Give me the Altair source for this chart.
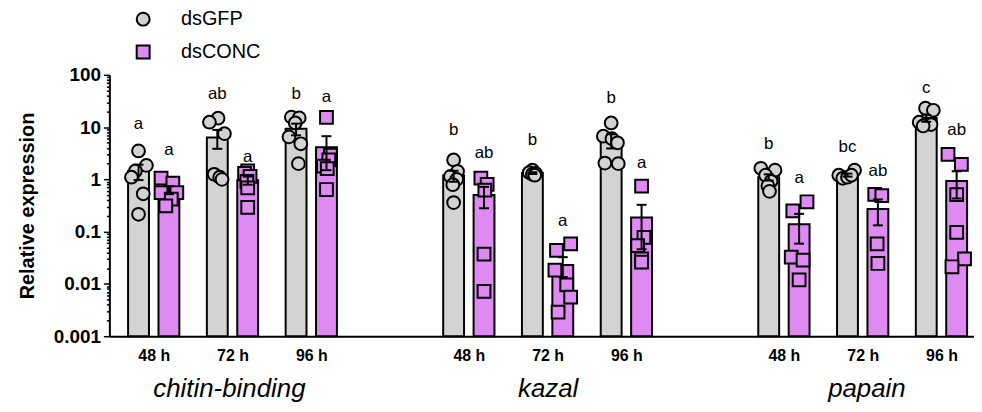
import altair as alt
import pandas as pd

genes = ["chitin-binding", "kazal", "papain"]
times = ["48 h", "72 h", "96 h"]
treatments = ["dsGFP", "dsCONC"]
colors = ["#d3d3d3", "#df8af2"]
shapes = ["circle", "square"]

# bar heights (mean) and SEM, [gene][time]
gfp_mean = [[1.44, 6.34, 9.3], [1.18, 1.32, 5.6], [1.1, 1.21, 14.9]]
gfp_sem = [[0.47, 2.5, 2.34], [0.28, 0.05, 1.7], [0.15, 0.08, 2.26]]
conc_mean = [[0.63, 0.96, 4.1], [0.5, 0.023, 0.186], [0.139, 0.272, 0.93]]
conc_sem = [[0.11, 0.17, 2.6], [0.22, 0.0095, 0.14], [0.08, 0.14, 0.5]]

# individual replicates, [gene][time]
gfp_points = [
    [[3.5, 1.85, 1.45, 1.1, 0.53, 0.215], [14.8, 12.4, 7.5, 1.25, 1.1, 1.0], [15.5, 15, 12, 6.5, 4.8, 2.0]],
    [[2.35, 1.42, 1.14, 1.0, 0.79, 0.36], [1.5, 1.35, 1.3, 1.25, 1.2], [12.0, 6.7, 6.0, 5.0, 2.05, 2.0]],
    [[1.63, 1.5, 1.2, 0.92, 0.75, 0.59], [1.5, 1.2, 1.05, 1.1, 1.2], [23, 21, 12.4, 11.5, 11.2, 10.5]],
]
conc_points = [
    [[1.06, 0.85, 0.56, 0.56, 0.42, 0.31], [1.45, 1.3, 1.14, 0.92, 0.69, 0.29], [15.4, 2.9, 2.35, 1.8, 1.6, 0.64]],
    [[1.06, 0.8, 0.62, 0.037, 0.0072], [0.0585, 0.0438, 0.0184, 0.0096, 0.0056, 0.0029], [0.74, 0.078, 0.054, 0.03, 0.026]],
    [[0.373, 0.249, 0.0327, 0.0284, 0.0119], [0.514, 0.49, 0.0585, 0.0246], [3.0, 1.94, 0.51, 0.097, 0.03, 0.0213]],
]
# horizontal scatter of replicates (in slot units)
gfp_spread = [
    [[0, 0.1, -0.04, -0.09, 0.06, 0], [0.01, -0.1, 0.09, -0.04, 0.03, 0.06], [-0.06, 0.04, -0.01, -0.09, 0.06, 0.03]],
    [[0, 0.05, -0.04, 0.04, -0.01, 0], [0, -0.04, 0.04, 0, 0.03], [0, -0.1, 0.01, 0.08, -0.08, 0.09]],
    [[-0.1, 0.08, -0.04, 0.03, -0.01, 0.01], [0.09, -0.11, -0.06, 0, 0.05], [-0.01, 0.09, -0.09, 0, 0.06, -0.04]],
]
conc_spread = [
    [[-0.1, 0.05, -0.1, 0.1, 0.03, -0.04], [0, -0.04, 0.03, -0.01, 0, 0], [0, 0.05, 0.03, -0.04, 0.01, 0]],
    [[-0.04, 0.04, 0.01, 0, 0], [0.1, -0.08, -0.1, 0.05, 0.1, -0.06], [0, 0.03, -0.05, 0, 0]],
    [[0.1, -0.08, -0.1, 0.05, 0], [-0.04, 0.05, -0.01, 0], [-0.11, 0.06, 0, 0, 0.1, -0.06]],
]
# significance letters and the height they are written at
gfp_letters = [["a", "ab", "b"], ["b", "b", "b"], ["b", "bc", "c"]]
conc_letters = [["a", "a", "a"], ["ab", "a", "a"], ["a", "ab", "ab"]]
gfp_letter_at = [[11.5, 42.4, 42.4], [8.7, 5.6, 36.7], [4.84, 4.19, 56.9]]
conc_letter_at = [[3.63, 2.71, 38.4], [3.13, 0.161, 2.03], [1.06, 1.42, 8.67]]

side = [-0.193, 0.193]
ymin, ymax = 0.001, 100

bar_rows, pt_rows = [], []
for g, gene in enumerate(genes):
    for t, tm in enumerate(times):
        slot = g * 4 + t
        for k, (tr, means, sems, pts, spr, lets, lat) in enumerate([
            ("dsGFP", gfp_mean, gfp_sem, gfp_points, gfp_spread, gfp_letters, gfp_letter_at),
            ("dsCONC", conc_mean, conc_sem, conc_points, conc_spread, conc_letters, conc_letter_at),
        ]):
            m, s = means[g][t], sems[g][t]
            lo = m - s if m - s > 0 else m
            bar_rows.append(dict(gene=gene, time=tm, treatment=tr, pos=slot + side[k],
                                 mean=m, lo=lo, hi=m + s, letter=lets[g][t], letter_at=lat[g][t]))
            for v, j in zip(pts[g][t], spr[g][t]):
                pt_rows.append(dict(gene=gene, time=tm, treatment=tr, pos=slot + side[k] + j, value=v))

bars_df = pd.DataFrame(bar_rows)
pts_df = pd.DataFrame(pt_rows)
caps_df = pd.concat([
    bars_df.assign(cap=bars_df["hi"]),
    bars_df[bars_df["lo"] < bars_df["mean"]].assign(cap=lambda d: d["lo"]),
])

FONT = "Liberation Sans"
x_domain = [-0.5, 10.35]
slot_vals = [g * 4 + t for g in range(len(genes)) for t in range(len(times))]
slot_names = [""] * (max(slot_vals) + 1)
for g in range(len(genes)):
    for t, tm in enumerate(times):
        slot_names[g * 4 + t] = tm
time_expr = "[" + ",".join("'" + s + "'" for s in slot_names) + "][datum.value]"
gene_expr = "[" + ",".join("'" + s + "'" for s in genes) + "][(datum.value-1)/4]"

decades = [0.001, 0.01, 0.1, 1, 10, 100]
ytick_vals = []
for d in decades[:-1]:
    ytick_vals += [d * k for k in range(1, 10)]
ytick_vals.append(100)
dec_test = "indexof([0.001,0.01,0.1,1,10,100], datum.value) >= 0"

x_enc = alt.X("pos:Q", scale=alt.Scale(domain=x_domain, nice=False, zero=False),
              axis=alt.Axis(values=slot_vals, labelExpr=time_expr, title=None, grid=False,
                            ticks=False, tickSize=0, domainColor="black", domainWidth=2,
                            labelFont=FONT, labelFontSize=16, labelFontWeight="bold",
                            labelColor="black", labelPadding=11))
y_scale = alt.Scale(type="log", domain=[ymin, ymax], nice=False)
y_axis = alt.Axis(values=ytick_vals, labelExpr=dec_test + " ? format(datum.value, '~g') : ''",
                  title="Relative expression", titleFont=FONT, titleFontSize=20,
                  titleFontWeight="bold", titleColor="black", titlePadding=16,
                  labelFont=FONT, labelFontSize=19, labelFontWeight="bold", labelColor="black",
                  labelPadding=3, grid=False, domainColor="black", domainWidth=2,
                  tickColor="black", tickWidth=1.5,
                  tickSize={"condition": {"test": dec_test, "value": 6}, "value": 3})

fill_scale = alt.Scale(domain=treatments, range=colors)
shape_scale = alt.Scale(domain=treatments, range=shapes)
legend = alt.Legend(orient="none", legendX=24, legendY=-66, title=None, labelFont=FONT,
                    labelFontSize=20, labelColor="black", symbolSize=169, symbolStrokeWidth=2,
                    symbolStrokeColor="black", labelOffset=28, rowPadding=11, padding=0,
                    labelLimit=200)

bars = alt.Chart(bars_df).mark_bar(size=21, stroke="black", strokeWidth=2).encode(
    x=x_enc,
    y=alt.Y("mean:Q", scale=y_scale, axis=y_axis),
    y2=alt.datum(ymin),
    fill=alt.Fill("treatment:N", scale=fill_scale, legend=legend, sort=treatments),
)
points = alt.Chart(pts_df).mark_point(filled=True, size=165, stroke="black", strokeWidth=2,
                                       opacity=1).encode(
    x="pos:Q",
    y="value:Q",
    fill=alt.Fill("treatment:N", scale=fill_scale, legend=legend, sort=treatments),
    shape=alt.Shape("treatment:N", scale=shape_scale, legend=legend, sort=treatments),
)
err = alt.Chart(bars_df).mark_rule(color="black", strokeWidth=2).encode(
    x="pos:Q", y="lo:Q", y2="hi:Q")
caps = alt.Chart(caps_df).mark_tick(orient="horizontal", color="black", size=10,
                                    thickness=2, opacity=1).encode(x="pos:Q", y="cap:Q")
letters = alt.Chart(bars_df).mark_text(font=FONT, fontSize=17, color="black",
                                       baseline="middle").encode(
    x="pos:Q", y="letter_at:Q", text="letter:N")

inner = alt.layer(bars, points, err, caps, letters)

gene_df = pd.DataFrame({"gene": genes, "pos": [g * 4 + 1 for g in range(len(genes))]})
gene_layer = alt.Chart(gene_df).mark_point(opacity=0).encode(
    x=alt.X("pos:Q", scale=alt.Scale(domain=x_domain, nice=False, zero=False),
            axis=alt.Axis(orient="bottom", values=gene_df["pos"].tolist(), labelExpr=gene_expr,
                          title=None, grid=False, ticks=False, tickSize=0, domain=False,
                          labelFont=FONT, labelFontSize=26, labelFontStyle="italic",
                          labelColor="black", labelPadding=40)))

chart = alt.layer(inner, gene_layer).resolve_scale(x="independent").properties(
    width=870, height=263, autosize="none",
    padding={"left": 102, "top": 66, "right": 0, "bottom": 70},
).configure_view(stroke=None)

chart.save("out.html", embed_options={"renderer": "svg", "actions": False})
